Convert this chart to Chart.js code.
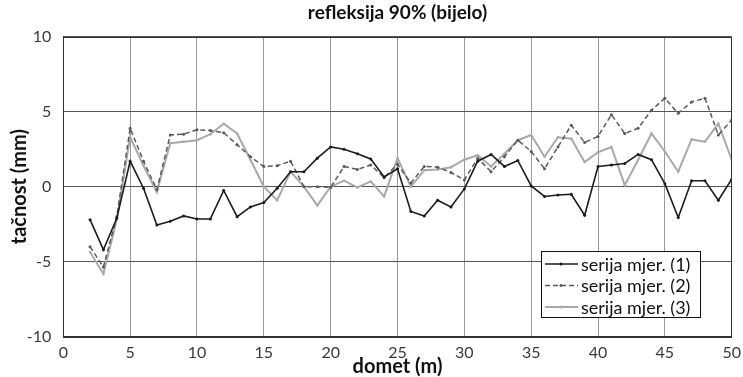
<!DOCTYPE html>
<html>
<head>
<meta charset="utf-8">
<script src="https://cdn.jsdelivr.net/npm/chart.js@4.4.1/dist/chart.umd.min.js"></script>
<style>
  html, body { margin: 0; padding: 0; background: #fff; }
  #wrap { width: 743px; height: 377px; }
</style>
</head>
<body>
<div id="wrap"><canvas id="chart" width="743" height="377"></canvas></div>
<script>
// domet (m) for each measurement
const domet = [2, 3, 4, 5, 6, 7, 8, 9, 10, 11, 12, 13, 14, 15, 16, 17, 18, 19, 20, 21, 22, 23, 24, 25, 26,
  27, 28, 29, 30, 31, 32, 33, 34, 35, 36, 37, 38, 39, 40, 41, 42, 43, 44, 45, 46, 47, 48, 49, 50];

// tačnost (mm)
const serija1 = [-2.2, -4.2, -2.1, 1.7, -0.1, -2.55, -2.3, -1.95, -2.15, -2.15, -0.25, -2.0, -1.35, -1.05, -0.1,
  1.0, 1.0, 1.9, 2.65, 2.5, 2.2, 1.85, 0.65, 1.2, -1.65, -1.95, -0.9, -1.35, -0.15, 1.7, 2.15, 1.35, 1.75,
  0.05, -0.65, -0.55, -0.5, -1.9, 1.35, 1.45, 1.55, 2.15, 1.8, 0.2, -2.05, 0.4, 0.4, -0.9, 0.5];
const serija2 = [-4.0, -5.35, -2.0, 3.9, 1.7, -0.2, 3.45, 3.5, 3.8, 3.75, 3.6, 2.8, 2.0, 1.35, 1.4,
  1.7, 0.0, 0.0, -0.05, 1.35, 1.15, 1.45, 0.6, 1.5, 0.25, 1.35, 1.3, 0.95, 0.45, 1.9, 1.0, 2.0, 3.1,
  2.35, 1.2, 2.65, 4.1, 2.95, 3.35, 4.8, 3.55, 3.9, 5.1, 5.9, 4.9, 5.65, 5.9, 3.45, 4.45];
const serija3 = [-4.35, -5.8, -2.2, 3.3, 1.4, -0.35, 2.9, 3.0, 3.1, 3.5, 4.2, 3.55, 1.8, 0.0, -0.9,
  1.0, 0.0, -1.25, 0.0, 0.4, -0.05, 0.35, -0.65, 1.9, 0.0, 1.1, 1.15, 1.3, 1.8, 2.1, 1.35, 2.2, 3.1,
  3.45, 2.0, 3.3, 3.2, 1.65, 2.3, 2.65, 0.1, 1.8, 3.55, 2.35, 1.0, 3.15, 3.0, 4.2, 1.8];

const seriesLabels = ["serija mjer. (1)", "serija mjer. (2)", "serija mjer. (3)"];
const xTicks = [0, 5, 10, 15, 20, 25, 30, 35, 40, 45, 50];
const yTicks = [-10, -5, 0, 5, 10];

const FONT = "Lato, 'Open Sans', sans-serif";

const toPoints = (vals) => vals.map((v, i) => ({ x: domet[i], y: v }));

// legend box inside the plot, lower right
const innerLegend = {
  id: "innerLegend",
  afterDraw(chart) {
    const { ctx, chartArea } = chart;
    const w = 159, h = 66;
    const left = Math.round(chartArea.right - 32 - w);
    const top = Math.round(chartArea.bottom - 20 - h);
    ctx.save();
    ctx.fillStyle = "#fff";
    ctx.fillRect(left, top, w, h);
    ctx.strokeStyle = "#111";
    ctx.lineWidth = 1;
    ctx.strokeRect(left + 0.5, top + 0.5, w, h);
    ctx.font = "18px " + FONT;
    ctx.textBaseline = "middle";
    chart.data.datasets.forEach((ds, i) => {
      const y = top + 13 + i * 21.5;
      ctx.strokeStyle = ds.borderColor;
      ctx.lineWidth = ds.borderWidth;
      ctx.setLineDash(ds.borderDash || []);
      ctx.beginPath();
      ctx.moveTo(left + 4, y);
      ctx.lineTo(left + 37, y);
      ctx.stroke();
      ctx.setLineDash([]);
      ctx.fillStyle = ds.borderColor;
      ctx.beginPath();
      ctx.arc(left + 20, y, 1.5, 0, Math.PI * 2);
      ctx.fill();
      ctx.fillStyle = "#111";
      ctx.fillText(ds.label, left + 40, y + 1);
    });
    ctx.restore();
  },
};

// dark frame around the plot area
const frame = {
  id: "frame",
  afterDatasetsDraw(chart) {
    const { ctx, chartArea: a } = chart;
    ctx.save();
    ctx.strokeStyle = "#333";
    ctx.lineWidth = 1;
    ctx.strokeRect(Math.round(a.left) + 0.5, Math.round(a.top) + 0.5,
      Math.round(a.right - a.left), Math.round(a.bottom - a.top));
    ctx.restore();
  },
};

new Chart(document.getElementById("chart"), {
  type: "line",
  data: {
    datasets: [
      {
        label: seriesLabels[0],
        data: toPoints(serija1),
        borderColor: "#1c1c1c",
        backgroundColor: "#1c1c1c",
        borderWidth: 1.6,
        pointRadius: 1.5,
        pointBorderWidth: 0,
        tension: 0,
      },
      {
        label: seriesLabels[1],
        data: toPoints(serija2),
        borderColor: "#5a5a5a",
        backgroundColor: "#5a5a5a",
        borderWidth: 1.5,
        borderDash: [5, 3],
        pointRadius: 1.5,
        pointBorderWidth: 0,
        tension: 0,
      },
      {
        label: seriesLabels[2],
        data: toPoints(serija3),
        borderColor: "#a9a9a9",
        backgroundColor: "#a9a9a9",
        borderWidth: 2,
        pointRadius: 1.2,
        pointBorderWidth: 0,
        tension: 0,
      },
    ],
  },
  options: {
    responsive: false,
    animation: false,
    devicePixelRatio: 1,
    layout: { padding: { left: 0, right: 11.3, top: 0, bottom: 0 } },
    plugins: {
      legend: { display: false },
      tooltip: { enabled: false },
      title: {
        display: true,
        text: "refleksija 90% (bijelo)",
        fullSize: false,
        color: "#111",
        font: { family: FONT, size: 19, weight: "bold", lineHeight: 1.2 },
        padding: { top: 1.6, bottom: 12.3 },
      },
    },
    scales: {
      x: {
        type: "linear",
        min: 0,
        max: 50,
        afterBuildTicks: (s) => { s.ticks = xTicks.map(v => ({ value: v })); },
        afterFit: (s) => { s.height = 40.3; s.paddingLeft = 0; s.paddingRight = 0; },
        ticks: {
          color: "#3a3a3a",
          padding: 7,
          font: { family: FONT, size: 16 },
        },
        grid: { color: "#9a9a9a", lineWidth: 1, drawTicks: false },
        border: { color: "#333" },
        title: {
          display: true,
          text: "domet (m)",
          color: "#111",
          font: { family: FONT, size: 20, weight: "bold", lineHeight: 1 },
          padding: { top: 0, bottom: 0 },
        },
      },
      y: {
        type: "linear",
        min: -10,
        max: 10,
        afterBuildTicks: (s) => { s.ticks = yTicks.map(v => ({ value: v })); },
        afterFit: (s) => { s.width = 63.3; s.paddingTop = 0; s.paddingBottom = 0; },
        ticks: {
          color: "#3a3a3a",
          padding: 12,
          font: { family: FONT, size: 16 },
        },
        grid: { color: "#555", lineWidth: 1, drawTicks: false },
        border: { color: "#333" },
        title: {
          display: true,
          text: "tačnost (mm)",
          color: "#111",
          font: { family: FONT, size: 20, weight: "bold", lineHeight: 1 },
          padding: { top: 10, bottom: 0 },
        },
      },
    },
  },
  plugins: [frame, innerLegend],
});
</script>
</body>
</html>
